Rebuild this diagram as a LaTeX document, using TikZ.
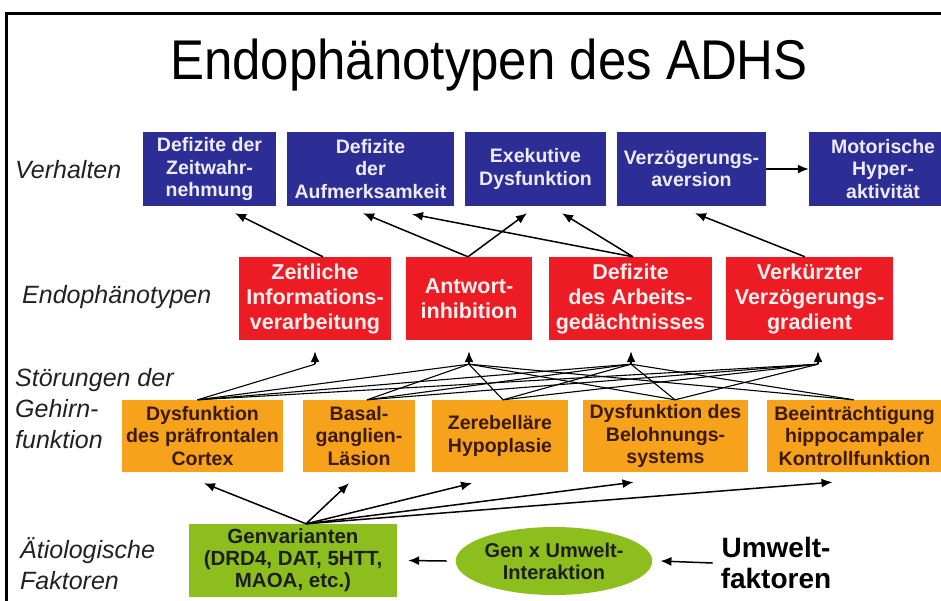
\documentclass[tikz,border=0pt]{standalone}
\usepackage{fontspec}
\setmainfont{Liberation Sans}
\usetikzlibrary{arrows.meta,shapes.geometric}
\definecolor{bxblue}{HTML}{2D2D96}
\definecolor{bxbluetext}{HTML}{ECECFA}
\definecolor{bxred}{HTML}{ED1C24}
\definecolor{bxredtext}{HTML}{FFF0F0}
\definecolor{bxorange}{HTML}{F7A21B}
\definecolor{bxorangetext}{HTML}{3A1A00}
\definecolor{bxgreen}{HTML}{8CBE1E}
\definecolor{bxgreentext}{HTML}{1E1E1E}
\definecolor{lblgray}{HTML}{222222}
\tikzset{
  box/.style={rectangle, inner sep=0pt, align=center, font=\bfseries\fontsize{19.5}{22.5}\selectfont},
  bluebox/.style={box, fill=bxblue, text=bxbluetext, minimum height=74pt},
  redbox/.style={box, fill=bxred, text=bxredtext, minimum height=83pt, font=\bfseries\fontsize{21.5}{25}\selectfont},
  orangebox/.style={box, fill=bxorange, text=bxorangetext, minimum height=72pt},
  greenbox/.style={box, fill=bxgreen, text=bxgreentext, font=\bfseries\fontsize{20.5}{22}\selectfont},
  lbl/.style={font=\itshape\fontsize{25}{31}\selectfont, text=lblgray, anchor=west, inner sep=0pt, align=left},
  arr/.style={-{Latex[length=11pt,width=9pt]}, line width=1.5pt, draw=black},
  ln/.style={line width=1.1pt, draw=black}
}
\begin{document}
\begin{tikzpicture}[x=1pt,y=-1pt]
\useasboundingbox (0,0) rectangle (941,600);
\clip (0,0) rectangle (941,600);
\fill[white] (0,0) rectangle (941,600);
% frame
\draw[line width=3pt] (6,620) -- (6,13) -- (960,13);
% title
\node[font=\fontsize{56}{60}\selectfont, anchor=base, inner sep=0pt] (T) at (489,79) {\scalebox{0.91}[1]{Endophänotypen des ADHS}};
% row labels
\node[lbl] (L1) at (15,170) {Verhalten};
\node[lbl] (L2) at (22,297) {Endophänotypen};
\node[lbl] (L3) at (15,409) {Störungen der\\Gehirn-\\funktion};
\node[lbl] (L4) at (20,564) {Ätiologische\\Faktoren};
% behaviour
\node[bluebox, minimum width=133pt] (B1) at (209.5,169) {Defizite der\\Zeitwahr-\\nehmung};
\node[bluebox, minimum width=167pt] (B2) at (370.5,169) {Defizite\\der\\Aufmerksamkeit};
\node[bluebox, minimum width=141pt] (B3) at (535.5,169) {Exekutive\\Dysfunktion};
\node[bluebox, minimum width=149pt] (B4) at (691.5,169) {Verzögerungs-\\aversion};
\node[bluebox, minimum width=148pt] (B5) at (883,169) {Motorische\\Hyper-\\aktivität};
% endophenotypes
\node[redbox, minimum width=152pt] (R1) at (315,298.5) {Zeitliche\\Informations-\\verarbeitung};
\node[redbox, minimum width=126pt] (R2) at (469,298.5) {Antwort-\\inhibition};
\node[redbox, minimum width=163pt] (R3) at (630.5,298.5) {Defizite\\des Arbeits-\\gedächtnisses};
\node[redbox, minimum width=167pt] (R4) at (809.5,298.5) {Verkürzter\\Verzögerungs-\\gradient};
% brain
\node[orangebox, minimum width=161pt] (O1) at (202.5,436) {Dysfunktion\\des präfrontalen\\Cortex};
\node[orangebox, minimum width=112pt] (O2) at (359,436) {Basal-\\ganglien-\\Läsion};
\node[orangebox, minimum width=136pt] (O3) at (500,436) {Zerebelläre\\Hypoplasie};
\node[orangebox, minimum width=165pt] (O4) at (665.5,436) {Dysfunktion des\\Belohnungs-\\systems};
\node[orangebox, minimum width=175pt] (O5) at (854.5,436) {Beeinträchtigung\\hippocampaler\\Kontrollfunktion};
% aetiology
\node[greenbox, minimum width=208pt, minimum height=73pt] (G1) at (293,560.5) {Genvarianten\\(DRD4, DAT, 5HTT,\\MAOA, etc.)};
\node[ellipse, fill=bxgreen, text=bxgreentext, minimum width=184pt, minimum height=68pt, inner sep=0pt, align=center, font=\bfseries\fontsize{20}{22}\selectfont] (E) at (554,561) {Gen x Umwelt-\\Interaktion};
\node[font=\bfseries\fontsize{28}{31}\selectfont, align=center, inner sep=0pt] (U) at (776,563) {Umwelt-\\faktoren};
% upper arrows: endophenotypes -> behaviour
\draw[arr] ([xshift=8pt]R1.north) -- ([xshift=25.5pt,yshift=-7pt]B1.south);
\draw[arr] ([xshift=-1pt]R2.north) -- ([xshift=-7.5pt,yshift=-7pt]B2.south);
\draw[arr] ([xshift=-1pt]R2.north) -- ([xshift=-8.5pt,yshift=-7pt]B3.south);
\draw[arr] ([xshift=2.5pt]R3.north) -- ([xshift=41.5pt,yshift=-8pt]B2.south);
\draw[arr] ([xshift=2.5pt]R3.north) -- ([xshift=26.5pt,yshift=-7pt]B3.south);
\draw[arr] ([xshift=-4.5pt]R4.north) -- ([xshift=3.5pt,yshift=-7pt]B4.south);
\draw[arr] (B4.east) -- (B5.west);
% hubs below endophenotypes
\coordinate (h1) at ([yshift=-24pt]R1.south);
\coordinate (h2) at ([yshift=-24pt]R2.south);
\coordinate (h3) at ([xshift=0.5pt,yshift=-24pt]R3.south);
\coordinate (h4) at ([xshift=8.5pt,yshift=-24pt]R4.south);
\draw[arr] (h1) -- ([yshift=-11pt]R1.south);
\draw[arr] (h2) -- ([yshift=-11pt]R2.south);
\draw[arr] (h3) -- ([xshift=0.5pt,yshift=-11pt]R3.south);
\draw[arr] (h4) -- ([xshift=8.5pt,yshift=-11pt]R4.south);
\coordinate (o1) at ([xshift=-5pt]O1.north);
\coordinate (o2) at ([xshift=8pt]O2.north);
\coordinate (o3) at ([xshift=3pt]O3.north);
\coordinate (o4) at ([xshift=9.5pt]O4.north);
\coordinate (o5) at ([xshift=-1pt]O5.north);
\draw[ln] (o1) -- (h1);
\draw[ln] (o1) -- (h2);
\draw[ln] (o1) -- (h3);
\draw[ln] (o1) -- (h4);
\draw[ln] (o2) -- (h2);
\draw[ln] (o2) -- (h3);
\draw[ln] (o2) -- (h4);
\draw[ln] (o3) -- (h2);
\draw[ln] (o3) -- (h3);
\draw[ln] (o3) -- (h4);
\draw[ln] (o4) -- (h2);
\draw[ln] (o4) -- (h3);
\draw[ln] (o4) -- (h4);
\draw[ln] (o5) -- (h2);
\draw[ln] (o5) -- (h3);
% genes -> brain
\coordinate (g) at ([xshift=13pt]G1.north);
\draw[arr] (g) -- ([xshift=1.5pt,yshift=-11pt]O1.south);
\draw[arr] (g) -- ([xshift=-10pt,yshift=-11pt]O2.south);
\draw[arr] (g) -- ([xshift=-28pt,yshift=-11pt]O3.south);
\draw[arr] (g) -- ([xshift=-32pt,yshift=-10pt]O4.south);
\draw[arr] (g) -- ([xshift=-22pt,yshift=-10pt]O5.south);
% bottom arrows
\draw[arr] ([xshift=-9pt]E.west) -- ([xshift=11pt]G1.east);
\draw[arr] ([xshift=-8pt]U.west) -- ([xshift=8pt]E.east);
\end{tikzpicture}
\end{document}
